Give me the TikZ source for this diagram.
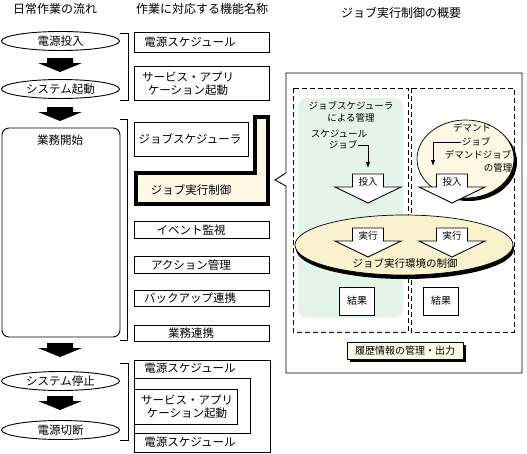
\documentclass[tikz,border=0pt]{standalone}
\usepackage{fontspec}
\setmainfont{Noto Sans CJK JP}
\usetikzlibrary{shapes.geometric,arrows.meta,calc}
\definecolor{cream}{HTML}{FFF8E4}
\definecolor{ecream}{HTML}{FAF2CF}
\definecolor{mint}{HTML}{E4F4E8}
\begin{document}
\begin{tikzpicture}[x=1pt,y=-1pt,line width=0.9pt,
  big/.style={font=\fontsize{11.5}{13}\selectfont,inner sep=0pt},
  sm/.style={font=\fontsize{9.5}{11.5}\selectfont,inner sep=0pt},
  ell/.style={ellipse,draw,fill=white,minimum width=118pt,minimum height=19pt,inner sep=0pt,font=\fontsize{11.5}{13}\selectfont},
  box/.style={draw,fill=white,inner sep=0pt,minimum width=135pt},
  arr/.style={-{Latex[length=6pt,width=4.5pt]},line width=0.9pt},
  blk/.pic={\fill (-13,0) -- (13,0) -- (13,5) -- (22,5) -- (0,14) -- (-22,5) -- (-13,5) -- cycle;},
  wht/.pic={\draw[fill=white] (-15.5,0) -- (15.5,0) -- (15.5,13) -- (33,13) -- (0,29) -- (-33,13) -- (-15.5,13) -- cycle;}
]
\useasboundingbox (0,0) rectangle (527,453);

% headers
\node[font=\fontsize{12}{14}\selectfont,inner sep=0pt] (h1) at (55,9) {日常作業の流れ};
\node[font=\fontsize{12}{14}\selectfont,inner sep=0pt] (h2) at (202,9) {作業に対応する機能名称};
\node[font=\fontsize{12}{14}\selectfont,inner sep=0pt] (h3) at (401,13) {ジョブ実行制御の概要};

% left column
\node[ell] (e1) at (60.5,41) {電源投入};
\pic at (60,58) {blk};
\node[ell] (e2) at (60.5,89) {システム起動};
\pic at (60,107) {blk};
\draw[rounded corners=7pt] (2,128) rectangle (120,337);
\node[big] (gyomu) at (60,140) {業務開始};
\pic at (60,343) {blk};
\node[ell] (e3) at (60.5,381) {システム停止};
\pic at (60,396) {blk};
\node[ell] (e4) at (60.5,430) {電源切断};

% brackets
\draw (120,33) -- (128,33) -- (128,100) -- (120,100);
\draw (120,119) -- (127,119) -- (127,340) -- (120,340);
\draw (120,363) -- (128,363) -- (128,440) -- (120,440);

% function boxes
\node[box,minimum height=20pt] (b1) at (201.5,42) {};
\node[big] (t1) at (190,42) {電源スケジュール};
\node[box,minimum height=34pt] (b2) at (201.5,83) {};
\node[big,align=center] (t2) at (188,84) {サービス・アプリ\\ケーション起動};
\node[box,minimum width=114pt,minimum height=34pt] (b3) at (191,139) {};
\node[big] (t3) at (190,139) {ジョブスケジューラ};
\draw[line width=3.8pt,fill=cream,line join=miter] (255,117) -- (268,117) -- (268,204) -- (136,204) -- (136,173) -- (255,173) -- cycle;
\node[big] (t4) at (191,190) {ジョブ実行制御};
\node[box,minimum height=16.5pt] (b5) at (201.5,230) {};
\node[big] (t5) at (191,230) {イベント監視};
\node[box,minimum height=16.5pt] (b6) at (201.5,265) {};
\node[big] (t6) at (191,265) {アクション管理};
\node[box,minimum height=16.5pt] (b7) at (201.5,298.5) {};
\node[big] (t7) at (190,298.5) {バックアップ連携};
\node[box,minimum height=16.5pt] (b8) at (201.5,333.5) {};
\node[big] (t8) at (191,333.5) {業務連携};

% bottom group
\draw (134,360) rectangle (270,452);
\draw (134,378) -- (250,378) -- (250,433) -- (134,433);
\node[draw,inner sep=0pt,minimum width=103pt,minimum height=35pt] (b9) at (185.5,406.5) {};
\node[big] (t9) at (190,368) {電源スケジュール};
\node[big,align=center] (t10) at (187,406.5) {サービス・アプリ\\ケーション起動};
\node[big] (t11) at (190,442) {電源スケジュール};

% right panel
\draw (286,73) -- (522,73) -- (522,373) -- (286,373) -- (286,186) -- (275,180) -- (286,173) -- cycle;
\draw[dash pattern=on 5pt off 3pt] (293,88) rectangle (408,332);
\draw[dash pattern=on 5pt off 3pt] (411,88) rectangle (514,332);
\fill[mint,rounded corners=9pt] (298,98) rectangle (403,318);

\node[sm,align=center] (sch) at (351,112) {ジョブスケジューラ\\による管理};
\node[sm] (sj1) at (339,134) {スケジュール};
\node[sm] (sj2) at (343,145) {ジョブ};
\coordinate (aL) at (368,168);
\draw[arr] (sj2.east) -| (aL);

% demand circle
\node[ellipse,fill=black,minimum width=97pt,minimum height=78pt] (dshadow) at (468.5,162) {};
\node[ellipse,draw,line width=0.7pt,fill=cream,minimum width=97pt,minimum height=78pt] (demand) at (465.5,159) {};
\node[sm] (d1) at (472,128) {デマンド};
\node[sm] (d2) at (476,142) {ジョブ};
\node[sm] (d3) at (478,155) {デマンドジョブ};
\node[sm] (d4) at (498,168) {の管理};
\coordinate (aR) at (433,166);
\draw[arr] (d2.west) -| (aR);

\pic at (368,174) {wht};
\node[sm] (in1) at (368,182) {投入};
\pic at (452,174) {wht};
\node[sm] (in2) at (452,182) {投入};

% execution ellipse
\node[ellipse,fill=black,minimum width=218pt,minimum height=60pt] (eshadow) at (405,249) {};
\node[ellipse,draw,line width=0.7pt,fill=ecream,minimum width=218pt,minimum height=60pt] (exec) at (404,245) {};
\pic at (368,228) {wht};
\node[sm] (ex1) at (368,236) {実行};
\pic at (452,228) {wht};
\node[sm] (ex2) at (452,236) {実行};
\node[font=\fontsize{10.5}{12}\selectfont,inner sep=0pt] (ctl) at (405,263) {ジョブ実行環境の制御};

\node[draw,fill=white,minimum width=35pt,minimum height=28pt,inner sep=0pt,font=\fontsize{10}{12}\selectfont] (r1) at (357,301) {結果};
\node[draw,fill=white,minimum width=35pt,minimum height=28pt,inner sep=0pt,font=\fontsize{10}{12}\selectfont] (r2) at (441,301) {結果};

\fill (350,345) rectangle (466,362);
\node[draw,fill=cream,minimum width=116pt,minimum height=17pt,inner sep=0pt,font=\fontsize{10}{12}\selectfont] (hist) at (405,350.5) {履歴情報の管理・出力};
\end{tikzpicture}
\end{document}
